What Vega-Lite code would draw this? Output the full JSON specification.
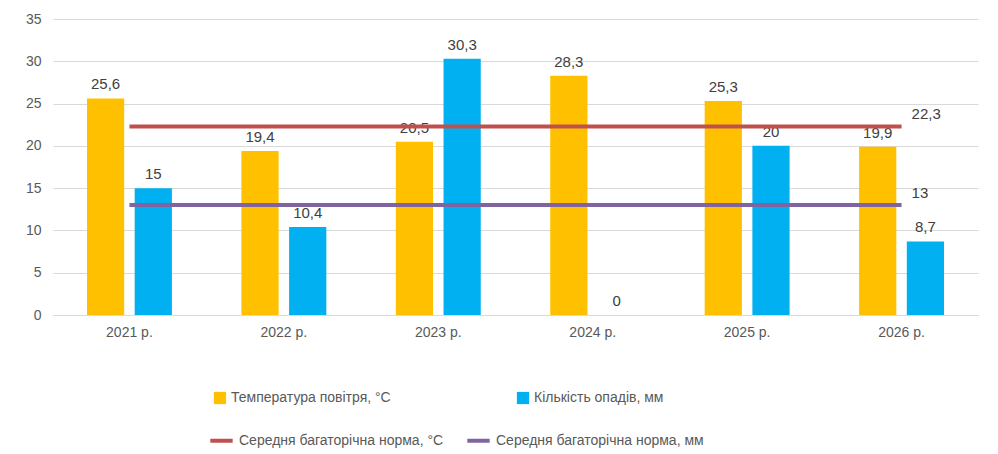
{
  "$schema": "https://vega.github.io/schema/vega-lite/v6.json",
  "width": 998,
  "height": 454,
  "autosize": {"type": "fit", "contains": "padding"},
  "padding": {"left": 25, "right": 20, "top": 12, "bottom": 115},
  "config": {
    "view": {"stroke": null},
    "font": "Liberation Sans",
    "axis": {"labelFont": "Liberation Sans", "labelFontSize": 14, "labelColor": "#595959"},
    "legend": {"labelFont": "Liberation Sans", "labelFontSize": 14, "labelColor": "#595959"}
  },
  "datasets": {
    "bars": [
      {"year": "2021 р.", "series": "Температура повітря, °C", "value": 25.6, "label": "25,6"},
      {"year": "2021 р.", "series": "Кількість опадів, мм", "value": 15, "label": "15"},
      {"year": "2022 р.", "series": "Температура повітря, °C", "value": 19.4, "label": "19,4"},
      {"year": "2022 р.", "series": "Кількість опадів, мм", "value": 10.4, "label": "10,4"},
      {"year": "2023 р.", "series": "Температура повітря, °C", "value": 20.5, "label": "20,5"},
      {"year": "2023 р.", "series": "Кількість опадів, мм", "value": 30.3, "label": "30,3"},
      {"year": "2024 р.", "series": "Температура повітря, °C", "value": 28.3, "label": "28,3"},
      {"year": "2024 р.", "series": "Кількість опадів, мм", "value": 0, "label": "0"},
      {"year": "2025 р.", "series": "Температура повітря, °C", "value": 25.3, "label": "25,3"},
      {"year": "2025 р.", "series": "Кількість опадів, мм", "value": 20, "label": "20"},
      {"year": "2026 р.", "series": "Температура повітря, °C", "value": 19.9, "label": "19,9"},
      {"year": "2026 р.", "series": "Кількість опадів, мм", "value": 8.7, "label": "8,7"}
    ],
    "norms": [
      {"year": "2021 р.", "norm": "Середня багаторічна норма, °C", "value": 22.3},
      {"year": "2022 р.", "norm": "Середня багаторічна норма, °C", "value": 22.3},
      {"year": "2023 р.", "norm": "Середня багаторічна норма, °C", "value": 22.3},
      {"year": "2024 р.", "norm": "Середня багаторічна норма, °C", "value": 22.3},
      {"year": "2025 р.", "norm": "Середня багаторічна норма, °C", "value": 22.3},
      {"year": "2026 р.", "norm": "Середня багаторічна норма, °C", "value": 22.3, "label": "22,3"},
      {"year": "2021 р.", "norm": "Середня багаторічна норма, мм", "value": 13},
      {"year": "2022 р.", "norm": "Середня багаторічна норма, мм", "value": 13},
      {"year": "2023 р.", "norm": "Середня багаторічна норма, мм", "value": 13},
      {"year": "2024 р.", "norm": "Середня багаторічна норма, мм", "value": 13},
      {"year": "2025 р.", "norm": "Середня багаторічна норма, мм", "value": 13},
      {"year": "2026 р.", "norm": "Середня багаторічна норма, мм", "value": 13, "label": "13"}
    ]
  },
  "encoding": {
    "x": {"field": "year", "type": "nominal", "title": null,
      "scale": {"paddingInner": 0.45, "paddingOuter": 0.22},
      "axis": {"labelAngle": 0, "ticks": false, "domainColor": "#d9d9d9", "labelPadding": 10}},
    "y": {"field": "value", "type": "quantitative", "title": null,
      "scale": {"domain": [0, 35]},
      "axis": {"values": [0, 5, 10, 15, 20, 25, 30, 35], "domain": false, "ticks": false, "gridColor": "#d9d9d9", "labelPadding": 12}}
  },
  "layer": [
    {
      "data": {"name": "bars"},
      "mark": {"type": "bar"},
      "encoding": {
        "xOffset": {"field": "series", "type": "nominal", "sort": null, "scale": {"paddingInner": 0.22}},
        "fill": {"field": "series", "type": "nominal", "sort": null,
          "scale": {"domain": ["Температура повітря, °C", "Кількість опадів, мм"], "range": ["#FFC000", "#00B0F0"]},
          "legend": {"title": null, "orient": "none", "legendX": 160, "legendY": 372, "direction": "horizontal", "symbolType": "square", "symbolSize": 150, "columnPadding": 125, "labelLimit": 400}}
      }
    },
    {
      "data": {"name": "bars"},
      "mark": {"type": "text", "dy": -14, "fontSize": 15, "color": "#404040"},
      "encoding": {
        "xOffset": {"field": "series", "type": "nominal", "sort": null},
        "text": {"field": "label"}
      }
    },
    {
      "data": {"name": "norms"},
      "mark": {"type": "line", "strokeWidth": 4},
      "encoding": {
        "stroke": {"field": "norm", "type": "nominal",
          "scale": {"domain": ["Середня багаторічна норма, °C", "Середня багаторічна норма, мм"], "range": ["#C0504D", "#8064A2"]},
          "legend": {"title": null, "orient": "none", "legendX": 155, "legendY": 408, "direction": "horizontal", "symbolType": "stroke", "symbolStrokeWidth": 4, "symbolSize": 500, "columnPadding": 15, "labelLimit": 400}}
      }
    },
    {
      "data": {"name": "norms"},
      "transform": [{"filter": "datum.label"}],
      "mark": {"type": "text", "align": "left", "dx": 10, "dy": -12, "fontSize": 15, "color": "#404040"},
      "encoding": {"text": {"field": "label"}}
    }
  ]
}
